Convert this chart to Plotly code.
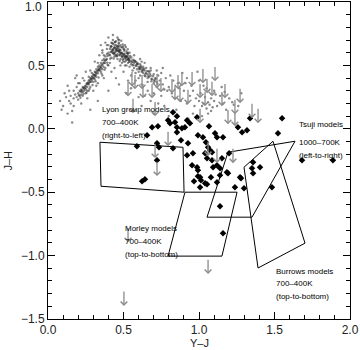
import plotly.graph_objects as go

# ---------------- data ----------------
# field-dwarf cloud (small grey dots)
cloud_x = [0.19,0.20,0.21,0.21,0.22,0.22,0.23,0.23,0.24,0.24,0.25,0.25,0.26,0.26,0.27,0.27,0.28,0.28,0.29,0.29,
           0.30,0.30,0.31,0.31,0.32,0.32,0.33,0.33,0.34,0.34,0.35,0.35,0.36,0.36,0.37,0.37,0.38,0.38,0.39,0.39,
           0.17,0.18,0.20,0.23,0.25,0.26,0.28,0.27,0.30,0.29,0.31,0.32,0.33,0.35,0.36,0.37,
           0.40,0.41,0.42,0.42,0.43,0.43,0.44,0.44,0.45,0.45,0.46,0.46,0.47,0.47,0.48,0.48,0.49,0.49,0.50,0.50,
           0.51,0.51,0.52,0.52,0.53,0.53,0.54,0.54,0.55,0.55,0.56,0.56,0.41,0.40,0.43,0.45,0.47,0.44,0.46,0.48,
           0.50,0.52,0.49,0.51,0.39,0.42,0.46,0.44,0.47,0.50,0.53,0.52,0.54,0.57,0.58,0.42,0.45,0.48,0.50,0.53,
           0.57,0.58,0.59,0.59,0.60,0.60,0.61,0.61,0.62,0.62,0.63,0.63,0.64,0.64,0.65,0.65,0.66,0.66,0.67,0.67,
           0.68,0.69,0.70,0.71,0.72,0.73,0.74,0.76,0.78,0.80,0.58,0.61,0.56,0.62,0.68,0.70,0.75,0.77,0.66,0.60,
           0.10,0.13,0.15,0.16,0.12,0.14,0.17,0.19,0.22,0.24,0.26,0.21,0.30,0.28,0.33,0.34,0.36,0.38,0.36,0.40,
           0.18,0.08,0.25,0.31,0.35,0.40,0.42,0.38,0.16,0.28,0.33,0.40,
           0.58,0.62,0.66,0.70,0.72,0.75,0.79,0.82,0.84,0.86,0.88,0.90,0.92,0.94,0.95,0.97,0.98,1.00,1.01,1.02,
           1.03,1.04,1.05,1.06,1.07,1.08,1.09,1.10,1.12,1.14,1.16,1.18,1.20,1.23,0.85,0.80,0.92,1.00,1.05,0.73,
           0.68,0.64,0.77,0.96,1.10,0.99,0.89,0.83,1.15,1.28,0.60,0.55,0.52,0.47,0.55,0.50,0.45,0.53,0.62,0.70,
           0.93,1.06,1.02,1.08,
           0.205,0.215,0.225,0.235,0.245,0.255,0.265,0.275,0.285,0.295,0.305,0.315,0.325,0.335,0.345,0.355,
           0.365,0.375,0.385,0.395,0.215,0.235,0.255,0.275,0.295,0.315,0.335,0.355,0.375,0.395,
           0.405,0.415,0.425,0.435,0.445,0.455,0.465,0.475,0.485,0.495,0.505,0.515,0.525,0.535,0.545,
           0.415,0.425,0.435,0.445,0.455,0.465,0.475,0.485,0.495,0.505,0.515,0.525,0.435,0.455,0.475,
           0.495,0.515,0.535,0.555,0.565,0.575,0.585,0.595,0.605,0.615,0.625,0.635,0.645,0.655,0.665,
           0.675,0.685,0.695,0.705,0.715,0.725,0.565,0.585,0.605,0.625,0.645,0.665,0.685,0.705,
           0.11,0.14,0.17,0.20,0.09,0.13,0.19,0.23,0.27,0.15,0.32,0.37,0.41,0.44,0.48,0.36,0.39,0.43,
           0.47,0.51,0.54,0.57,0.61,0.64,0.68,0.72,0.76,0.81,0.87,0.91,0.96,1.03,1.11,1.17,1.22,1.26,
           0.222,0.248,0.272,0.298,0.318,0.342,0.368,0.392,0.412,0.428,0.452,0.468,0.492,0.508,0.522,
           0.438,0.462,0.488,0.512,0.532,0.418,0.442,0.468,0.498,0.528,0.552,0.572,0.592,0.612,0.632,
           0.432,0.447,0.458,0.472,0.483,0.441,0.455,0.466,0.478,0.491,0.503,0.517,0.529,0.538,0.426,
           0.236,0.262,0.288,0.311,0.336,0.352,0.378,0.283,0.306,0.331]
cloud_y = [0.25,0.28,0.26,0.30,0.27,0.31,0.29,0.33,0.30,0.32,0.34,0.31,0.33,0.36,0.35,0.38,0.37,0.40,0.38,0.41,
           0.40,0.43,0.42,0.45,0.44,0.47,0.46,0.49,0.47,0.50,0.49,0.52,0.50,0.54,0.52,0.55,0.54,0.57,0.55,0.59,
           0.24,0.27,0.23,0.26,0.28,0.30,0.33,0.41,0.37,0.44,0.39,0.41,0.52,0.45,0.47,0.58,
           0.60,0.63,0.61,0.65,0.62,0.67,0.60,0.64,0.62,0.66,0.63,0.59,0.61,0.65,0.58,0.62,0.57,0.60,0.55,0.59,
           0.56,0.53,0.57,0.54,0.55,0.52,0.53,0.56,0.51,0.54,0.50,0.53,0.58,0.66,0.70,0.69,0.68,0.57,0.55,0.66,
           0.63,0.61,0.52,0.50,0.63,0.68,0.72,0.66,0.58,0.57,0.58,0.50,0.49,0.52,0.50,0.56,0.58,0.55,0.53,0.60,
           0.48,0.53,0.47,0.51,0.49,0.45,0.47,0.51,0.45,0.48,0.44,0.49,0.46,0.42,0.44,0.48,0.43,0.40,0.45,0.41,
           0.42,0.39,0.43,0.40,0.37,0.42,0.38,0.35,0.40,0.33,0.44,0.42,0.46,0.53,0.46,0.36,0.44,0.31,0.37,0.40,
           0.18,0.12,0.20,0.14,0.25,0.30,0.18,0.33,0.20,0.38,0.24,0.36,0.30,0.46,0.36,0.58,0.62,0.68,0.42,0.50,
           0.40,0.22,0.45,0.53,0.66,0.72,0.45,0.48,0.05,0.15,0.22,0.30,
           0.38,0.35,0.30,0.28,0.33,0.26,0.30,0.28,0.24,0.36,0.22,0.30,0.20,0.26,0.34,0.18,0.24,0.22,0.28,0.18,
           0.20,0.25,0.16,0.21,0.19,0.24,0.17,0.22,0.18,0.26,0.20,0.15,0.24,0.19,0.15,0.10,0.40,0.38,0.32,0.20,
           0.22,0.26,0.18,0.12,0.30,0.45,0.44,0.38,0.33,0.28,0.25,0.32,0.28,0.35,0.42,0.45,0.40,0.38,0.18,0.12,
           0.08,0.12,0.10,0.14,
           0.265,0.295,0.305,0.325,0.335,0.355,0.365,0.385,0.395,0.415,0.425,0.445,0.455,0.475,0.485,0.505,
           0.515,0.535,0.545,0.575,0.245,0.275,0.285,0.315,0.345,0.375,0.405,0.435,0.465,0.505,
           0.585,0.605,0.625,0.595,0.635,0.615,0.655,0.605,0.645,0.585,0.615,0.565,0.595,0.545,0.575,
           0.645,0.675,0.595,0.685,0.645,0.705,0.625,0.695,0.665,0.625,0.645,0.595,0.555,0.575,0.535,
           0.545,0.575,0.545,0.525,0.505,0.535,0.495,0.515,0.475,0.495,0.455,0.475,0.435,0.455,0.415,
           0.435,0.395,0.415,0.375,0.395,0.355,0.545,0.525,0.475,0.465,0.415,0.455,0.375,0.385,
           0.28,0.22,0.30,0.36,0.15,0.34,0.42,0.40,0.30,0.26,0.34,0.40,0.52,0.48,0.50,0.60,0.66,0.74,
           0.70,0.66,0.60,0.58,0.55,0.52,0.48,0.46,0.48,0.42,0.32,0.36,0.30,0.34,0.27,0.29,0.21,0.18,
           0.292,0.322,0.362,0.398,0.428,0.462,0.488,0.522,0.552,0.598,0.628,0.612,0.642,0.592,0.568,
           0.642,0.618,0.596,0.572,0.548,0.652,0.682,0.672,0.648,0.628,0.562,0.538,0.512,0.488,0.468,
           0.628,0.608,0.652,0.618,0.598,0.588,0.572,0.638,0.592,0.568,0.582,0.548,0.562,0.528,0.612,
           0.318,0.352,0.392,0.418,0.462,0.478,0.518,0.372,0.402,0.438]

# T dwarfs with measured J-H (filled diamonds)
dw_x = [0.589,0.656,0.689,0.728,0.795,0.828,0.854,0.854,0.854,0.722,0.735,0.828,0.722,0.623,0.642,0.808,0.841,
        0.921,0.940,0.987,0.887,0.907,1.066,0.881,0.927,0.993,1.026,1.106,1.119,1.046,1.060,1.073,1.040,0.960,
        1.152,1.199,0.954,0.987,0.993,1.007,1.139,1.185,1.272,1.139,1.258,1.285,1.338,1.318,1.159,1.086,1.053,
        1.086,0.921,1.093,1.358,1.351,1.550,1.523,1.682,1.887,1.119,1.192,0.993,1.079,0.967,1.013,1.040,1.053,
        1.007,1.119,1.238,1.278,1.298,1.358,1.404,1.139,1.159,1.483]
dw_y = [-0.138,-0.051,0.012,0.020,0.067,0.130,0.098,0.012,-0.028,-0.114,-0.146,-0.154,-0.248,-0.413,-0.398,0.043,
        0.051,0.067,0.043,0.091,0.004,0.012,0.020,-0.091,-0.114,-0.051,-0.067,-0.035,-0.067,-0.106,-0.146,-0.169,
        -0.193,-0.193,-0.232,-0.193,-0.287,-0.303,-0.327,-0.382,-0.311,-0.343,-0.382,-0.366,0.012,-0.028,0.083,
        -0.012,-0.067,-0.185,-0.232,-0.248,-0.209,-0.303,-0.264,-0.311,0.083,-0.035,-0.248,-0.248,-0.287,-0.350,
        -0.374,-0.382,-0.413,-0.406,-0.429,-0.437,-0.461,-0.421,-0.461,-0.390,-0.469,-0.350,-0.303,-0.610,-0.823,
        -0.461]

# upper limits in J-H (arrows), value = top of arrow
lim_x = [0.530,0.556,0.576,0.623,0.629,0.689,0.722,0.748,0.821,0.841,0.861,0.887,0.874,0.927,0.954,1.007,1.026,
         1.053,1.086,1.106,1.040,1.172,1.152,1.272,1.238,1.351,1.391,1.192,1.238,1.007,0.563,0.709,0.795,0.709,
         0.722,1.060,1.119,1.225,0.503,1.060,0.530]
lim_y = [0.380,0.460,0.437,0.437,0.366,0.366,0.445,0.413,0.405,0.350,0.437,0.460,0.335,0.319,0.460,0.366,0.484,
         0.405,0.382,0.500,0.303,0.366,0.303,0.327,0.240,0.209,0.169,0.161,0.146,0.169,0.248,0.224,-0.012,-0.106,
         -0.248,-0.090,-0.146,-0.146,-1.272,-1.020,-0.770]
lim_len = 0.125

# model grids (outlines)
lyon_x = [0.344,0.894,0.901,0.351,0.344]
lyon_y = [-0.106,-0.146,-0.500,-0.453,-0.106]
morley_x = [0.907,1.252,1.152,0.795,0.907]
morley_y = [-0.500,-0.500,-1.004,-1.004,-0.500]
tsuji_x = [1.192,1.636,1.351,1.053,1.192]
tsuji_y = [-0.185,-0.098,-0.697,-0.697,-0.185]
burrows_x = [1.298,1.490,1.702,1.391,1.298]
burrows_y = [-0.303,-0.098,-0.902,-1.098,-0.303]

labels = [
    ("Lyon group models", 0.344, 0.154), ("700\u2013400K", 0.344, 0.051), ("(right-to-left)", 0.344, -0.051),
    ("Tsuji models", 1.649, 0.035), ("1000\u2013700K", 1.649, -0.106), ("(left-to-right)", 1.649, -0.209),
    ("Morley models", 0.497, -0.783), ("700\u2013400K", 0.497, -0.886), ("(top-to-bottom)", 0.497, -0.988),
    ("Burrows models", 1.497, -1.122), ("700\u2013400K", 1.497, -1.217), ("(top-to-bottom)", 1.497, -1.319),
]

x_ticks = [0.0, 0.5, 1.0, 1.5, 2.0]
x_ticktext = ["0.0", "0.5", "1.0", "1.5", "2.0"]
y_ticks = [-1.5, -1.0, -0.5, 0.0, 0.5, 1.0]
y_ticktext = ["\u22121.5", "\u22121.0", "\u22120.5", "0.0", "0.5", ""]
y_top_label = "1.0"

FONT = "Liberation Sans, Arial, sans-serif"

# ---------------- figure ----------------
fig = go.Figure()
fig.add_trace(go.Scatter(x=cloud_x, y=cloud_y, mode="markers",
                         marker=dict(size=2.4, color="rgba(40,40,40,0.55)", line=dict(width=0)),
                         hoverinfo="skip"))

for px, py in [(lyon_x, lyon_y), (morley_x, morley_y), (tsuji_x, tsuji_y), (burrows_x, burrows_y)]:
    fig.add_trace(go.Scatter(x=px, y=py, mode="lines", line=dict(color="black", width=1)))

fig.add_trace(go.Scatter(x=dw_x, y=dw_y, mode="markers",
                         marker=dict(symbol="diamond", size=5, color="black")))

annotations = []
for xv, yv in zip(lim_x, lim_y):
    annotations.append(dict(x=xv, y=yv - lim_len, ax=xv, ay=yv, xref="x", yref="y", axref="x", ayref="y",
                            text="", showarrow=True, arrowhead=4, arrowsize=1, arrowwidth=1.3,
                            arrowcolor="#8c8c8c", standoff=0, startstandoff=0))
for txt, xv, yv in labels:
    annotations.append(dict(x=xv, y=yv, xref="x", yref="y", text=txt, showarrow=False,
                            xanchor="left", yanchor="middle",
                            font=dict(family=FONT, size=8, color="black")))
# top y tick label, nudged inside the page as in the reference
annotations.append(dict(x=0, y=y_ticks[-1], xref="paper", yref="y", text=y_top_label, showarrow=False,
                        xanchor="right", yanchor="middle", xshift=-4, yshift=-5,
                        font=dict(family=FONT, size=12, color="#222")))
# axis titles
annotations.append(dict(x=0.5, y=0, xref="paper", yref="paper", text="Y\u2013J", showarrow=False,
                        xanchor="center", yanchor="middle", yshift=-24,
                        font=dict(family=FONT, size=11, color="#222")))
annotations.append(dict(x=0, y=0.5, xref="paper", yref="paper", text="J\u2013H", showarrow=False,
                        xanchor="center", yanchor="middle", xshift=-41, textangle=-90,
                        font=dict(family=FONT, size=11, color="#222")))

axis_common = dict(showline=True, linecolor="black", linewidth=1, mirror="ticks", ticks="inside",
                   ticklen=7, tickcolor="black", tickwidth=1, showgrid=False, zeroline=False,
                   automargin=False,
                   tickfont=dict(family=FONT, size=12, color="#222"),
                   minor=dict(ticks="inside", ticklen=4, tickcolor="black", dtick=0.1, showgrid=False))

fig.update_layout(
    width=360, height=350,
    margin=dict(l=48, r=10, t=2, b=31),
    paper_bgcolor="white", plot_bgcolor="white",
    showlegend=False,
    annotations=annotations,
    xaxis=dict(range=[0, 2], tickmode="array", tickvals=x_ticks, ticktext=x_ticktext, **axis_common),
    yaxis=dict(range=[-1.5, 1.0], tickmode="array", tickvals=y_ticks, ticktext=y_ticktext, **axis_common),
)

fig.write_html("out.html", config={"displayModeBar": False},
               post_script="document.body.style.margin='0';")
